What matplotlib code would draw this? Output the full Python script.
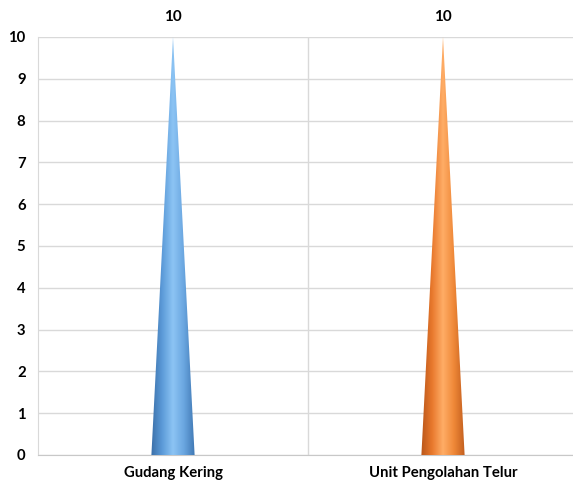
""" Cone chart: Gudang Kering vs Unit Pengolahan Telur. """
import numpy as np
import matplotlib.pyplot as plt
from matplotlib.patches import Polygon
from matplotlib.colors import LinearSegmentedColormap

categories = ['Gudang Kering', 'Unit Pengolahan Telur']
values = [10, 10]
y_ticks = [0, 1, 2, 3, 4, 5, 6, 7, 8, 9, 10]

cone_colors = [
    ['#3a6fa8', '#5b9ad8', '#8cc4f4', '#6aa6e0', '#3f78b4'],
    ['#b9561a', '#e8782c', '#ffad66', '#ef8838', '#c25e1e'],
]

plt.rcParams['font.family'] = ['Lato', 'DejaVu Sans']

figure = plt.figure(figsize=(5.73, 4.83), dpi=100)
# plot area runs a little past the right edge, as in the original
axes = figure.add_axes([38 / 573, 28 / 483, 540 / 573, 418 / 483])

half_w = 0.08
for i, (cat, val) in enumerate(zip(categories, values)):
    cmap = LinearSegmentedColormap.from_list(f'cone{i}', cone_colors[i])
    tri = Polygon([(i - half_w, 0), (i + half_w, 0), (i, val)],
                  closed=True, facecolor='none', edgecolor='none')
    axes.add_patch(tri)
    grad = np.linspace(0, 1, 256).reshape(1, -1)
    img = axes.imshow(grad, cmap=cmap, aspect='auto',
                      extent=(i - half_w, i + half_w, 0, val),
                      zorder=3, interpolation='bilinear')
    img.set_clip_path(tri)
    axes.text(i, val + 0.3, f'{val}', ha='center', va='bottom',
              fontsize=11, fontweight='bold')

axes.set_xlim(-0.5, 1.5)
axes.set_ylim(0, 10)
axes.set_yticks(y_ticks)
axes.set_xticks(range(len(categories)))
axes.set_xticklabels(categories, fontweight='bold', fontsize=10.7)
for lbl in axes.get_yticklabels():
    lbl.set_fontweight('bold')
    lbl.set_fontsize(10.7)
axes.tick_params(length=0, pad=9)
axes.tick_params(axis='x', pad=8)

axes.grid(axis='y', color='#d9d9d9', linewidth=1)
axes.axvline(0.5, color='#d9d9d9', linewidth=1, zorder=1)
axes.set_axisbelow(True)
for side in ['top', 'right']:
    axes.spines[side].set_visible(False)
axes.spines['left'].set_color('#d9d9d9')
axes.spines['bottom'].set_color('#c8c8c8')

figure.savefig('out.png', dpi=100)
